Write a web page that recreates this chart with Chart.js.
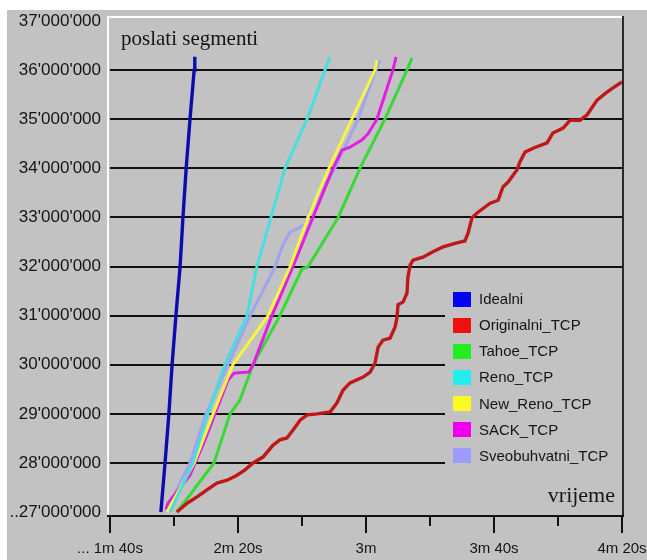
<!DOCTYPE html>
<html>
<head>
<meta charset="utf-8">
<title>poslati segmenti</title>
<script src="https://cdn.jsdelivr.net/npm/chart.js@4/dist/chart.umd.min.js"></script>
<style>
  html, body { margin: 0; padding: 0; background: #fff; }
  canvas { display: block; }
</style>
</head>
<body>
<canvas id="segChart" width="647" height="560"></canvas>
<script>
// ── data: time in seconds, sent segments in millions ──
const seriesNames = ['Idealni', 'Originalni_TCP', 'Tahoe_TCP', 'Reno_TCP', 'New_Reno_TCP', 'SACK_TCP', 'Sveobuhvatni_TCP'];

const idealT = [115.9, 117.2, 118.4, 119.4, 120.6, 121.9, 122.8, 123.8, 125.0, 126.3, 126.5];
const idealV = [27.0, 28.0, 29.0, 30.0, 31.0, 32.0, 33.0, 34.0, 35.0, 36.0, 36.27];

const origT = [120.9, 124.1, 127.2, 130.3, 133.4, 136.6, 139.7, 142.2, 144.7, 147.8, 150.9, 153.1, 155.3, 157.2, 159.4, 161.6,
               164.7, 168.8, 170.9, 172.8, 175.0, 179.1, 181.3, 182.8, 183.8, 185.3, 187.5, 189.1, 189.7, 190.0, 191.6, 192.8,
               193.1, 193.8, 194.7, 197.8, 200.9, 204.1, 208.4, 210.9, 211.9, 213.1, 214.7, 218.8, 221.3, 222.8, 224.4, 227.2,
               228.1, 229.7, 232.2, 236.6, 238.4, 241.6, 243.8, 246.9, 249.1, 252.2, 255.3, 257.2, 260.0];
const origV = [27.0, 27.18, 27.31, 27.45, 27.59, 27.65, 27.75, 27.86, 28.0, 28.12, 28.36, 28.47, 28.51, 28.67, 28.87, 28.98,
               29.0, 29.04, 29.22, 29.48, 29.63, 29.75, 29.85, 30.03, 30.36, 30.5, 30.54, 30.77, 30.97, 31.22, 31.28, 31.46,
               31.79, 32.03, 32.13, 32.19, 32.3, 32.4, 32.48, 32.52, 32.68, 32.99, 33.09, 33.29, 33.35, 33.62, 33.72, 33.97,
               34.13, 34.33, 34.41, 34.52, 34.72, 34.82, 34.98, 34.98, 35.09, 35.39, 35.55, 35.64, 35.76];

const tahoeT = [120.9, 132.5, 137.5, 140.6, 144.7, 153.1, 160.0, 161.9, 171.3, 178.1, 185.9, 192.8, 194.4];
const tahoeV = [27.0, 28.0, 29.0, 29.28, 30.0, 31.0, 31.95, 32.0, 33.0, 34.0, 35.0, 36.0, 36.25];

const renoT = [118.8, 125.9, 130.6, 135.9, 142.8, 145.9, 150.3, 154.7, 161.6, 167.2, 168.8];
const renoV = [27.0, 28.0, 29.0, 30.0, 31.0, 32.0, 33.0, 34.0, 35.0, 36.0, 36.27];

const newRenoT = [117.8, 126.3, 132.2, 138.4, 149.4, 156.3, 161.9, 168.4, 175.6, 182.8, 183.4];
const newRenoV = [27.0, 28.0, 29.0, 30.0, 31.0, 32.0, 33.0, 34.0, 35.0, 36.0, 36.2];

const sackT = [117.5, 118.1, 125.0, 129.7, 132.8, 136.9, 138.8, 143.4, 144.7, 150.6, 157.2, 163.4, 169.7, 172.5, 175.0, 178.8, 180.6, 183.4, 188.4, 189.4];
const sackV = [27.05, 27.18, 27.75, 28.47, 29.0, 29.69, 29.83, 29.85, 30.0, 31.0, 32.0, 33.0, 34.0, 34.37, 34.43, 34.58, 34.7, 35.0, 36.0, 36.27];

const sveoT = [117.5, 125.0, 130.0, 136.9, 143.8, 151.6, 154.0, 156.3, 159.4, 161.0, 162.5, 170.3, 177.5, 183.1, 184.4];
const sveoV = [27.0, 28.0, 29.0, 30.0, 31.0, 32.0, 32.44, 32.7, 32.8, 32.85, 33.15, 34.0, 35.0, 36.0, 36.2];

const yTickValues = [27, 28, 29, 30, 31, 32, 33, 34, 35, 36, 37];
const yTickLabels = ["..27'000'000", "28'000'000", "29'000'000", "30'000'000", "31'000'000", "32'000'000",
                     "33'000'000", "34'000'000", "35'000'000", "36'000'000", "37'000'000"];
const xTickValues = [100, 120, 140, 160, 180, 200, 220, 240, 260];
const xTickLabels = ['... 1m 40s', '', '2m 20s', '', '3m', '', '3m 40s', '', '4m 20s'];

// ── styles ──
const lineColors   = ['#0c0cae', '#c01818', '#36d936', '#46dede', '#f6f642', '#e21ee2', '#a2a2f2'];
const legendColors = ['#0000f4', '#f01010', '#22ee22', '#22eeee', '#fafa22', '#ee00ee', '#9c9cff'];
const drawOrder    = [0, 1, 5, 2, 3, 4, 6];   // lower = on top
const BG = '#c2c2c2';

const pairs = (t, v) => t.map((x, i) => ({ x: x, y: v[i] }));
const seriesData = [
    pairs(idealT, idealV), pairs(origT, origV), pairs(tahoeT, tahoeV), pairs(renoT, renoV),
    pairs(newRenoT, newRenoV), pairs(sackT, sackV), pairs(sveoT, sveoV)
];

// background, frame, ticks, captions and the legend box
const decor = {
    id: 'decor',
    beforeDraw(chart) {
        const ctx = chart.ctx;
        ctx.save();
        ctx.fillStyle = BG;
        ctx.fillRect(7, 10, chart.width - 7, chart.height - 10);
        ctx.restore();
    },
    afterDatasetsDraw(chart) {
        const ctx = chart.ctx;
        const a = chart.chartArea;
        const xs = chart.scales.x;
        ctx.save();

        // frame
        ctx.fillStyle = '#ffffff';
        ctx.fillRect(107, 16, a.right - 107, 2);
        ctx.fillRect(107, 16, 2, a.bottom - 16);
        ctx.fillStyle = '#2a2a2a';
        ctx.fillRect(a.right, 16, 2, a.bottom - 16);
        ctx.fillStyle = '#111';
        ctx.fillRect(107, a.bottom - 1, a.right - 105, 2);

        // x tick marks
        xTickValues.forEach((v, i) => {
            const px = Math.round(xs.getPixelForValue(v));
            ctx.fillRect(px - 1, a.bottom, 2, xTickLabels[i] ? 17 : 10);
        });

        // captions
        ctx.fillStyle = '#151515';
        ctx.font = '21px "Liberation Serif", "Times New Roman", serif';
        ctx.textBaseline = 'alphabetic';
        ctx.textAlign = 'left';
        ctx.fillText('poslati segmenti', 121, 45);
        ctx.font = '22px "Liberation Serif", "Times New Roman", serif';
        ctx.textAlign = 'right';
        ctx.fillText('vrijeme', 615, 502);

        // legend
        ctx.fillStyle = BG;
        ctx.fillRect(445, 284, a.right - 445, 188);
        ctx.font = '15px "Liberation Sans", Arial, sans-serif';
        ctx.textAlign = 'left';
        ctx.textBaseline = 'middle';
        chart.data.datasets.forEach((ds, i) => {
            const cy = 299 + i * 26.1;
            ctx.fillStyle = legendColors[i];
            ctx.fillRect(453, Math.round(cy - 7.5), 18, 15);
            ctx.fillStyle = '#151515';
            ctx.fillText(ds.label, 479, cy + 1);
        });
        ctx.restore();
    }
};

new Chart(document.getElementById('segChart'), {
    type: 'line',
    data: {
        datasets: seriesNames.map((name, i) => ({
            label: name,
            data: seriesData[i],
            borderColor: lineColors[i],
            borderWidth: i < 2 ? 3.4 : 3,
            pointRadius: 0,
            tension: 0,
            fill: false,
            order: drawOrder[i]
        }))
    },
    options: {
        responsive: false,
        animation: false,
        events: [],
        layout: { padding: { left: 0, right: 25, top: 21, bottom: 0 } },
        plugins: { legend: { display: false }, tooltip: { enabled: false } },
        scales: {
            x: {
                type: 'linear',
                min: 100,
                max: 260,
                afterBuildTicks: (s) => { s.ticks = xTickValues.map(v => ({ value: v })); },
                afterFit: (s) => { s.height = 44; s.paddingLeft = 0; s.paddingRight = 0; },
                grid: { display: false, drawTicks: false },
                border: { display: false },
                ticks: {
                    autoSkip: false,
                    maxRotation: 0,
                    padding: 24,
                    color: '#151515',
                    font: { family: '"Liberation Sans", Arial, sans-serif', size: 15 },
                    callback: (v, i) => xTickLabels[i]
                }
            },
            y: {
                type: 'linear',
                min: 26.92,
                max: 37,
                afterBuildTicks: (s) => { s.ticks = yTickValues.map(v => ({ value: v })); },
                afterFit: (s) => { s.width = 110; },
                grid: {
                    drawTicks: false,
                    lineWidth: 2,
                    color: (c) => (c.tick && c.tick.value > 27 && c.tick.value < 37) ? '#101010' : 'rgba(0,0,0,0)'
                },
                border: { display: false },
                ticks: {
                    autoSkip: false,
                    padding: 9,
                    color: '#151515',
                    font: { family: '"Liberation Sans", Arial, sans-serif', size: 17 },
                    callback: (v, i) => yTickLabels[i]
                }
            }
        }
    },
    plugins: [decor]
});
</script>
</body>
</html>
